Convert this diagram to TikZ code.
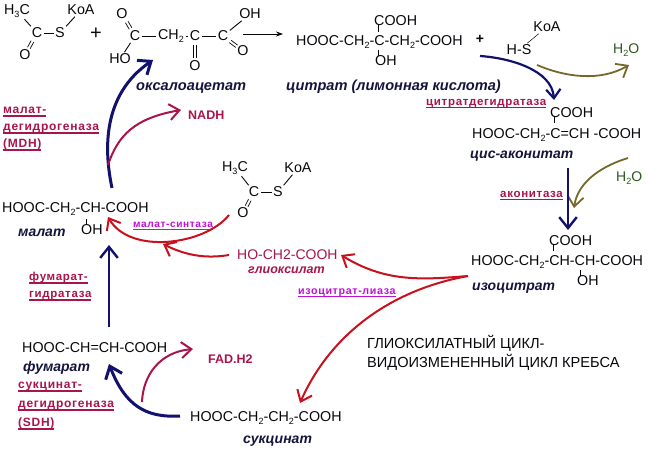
\documentclass[tikz,border=0pt]{standalone}
\usepackage{fontspec}
\setmainfont{Liberation Sans}
\newfontfamily\spacedbold[LetterSpace=6,BoldFont={Liberation Sans Bold}]{Liberation Sans}
\usetikzlibrary{arrows.meta,calc}
\definecolor{crim}{HTML}{A8154C}
\definecolor{redarr}{HTML}{C8101E}
\definecolor{navy2}{HTML}{12126E}
\definecolor{olive2}{HTML}{75692A}
\definecolor{dgreen}{HTML}{2A5A1E}
\definecolor{magen}{HTML}{C010D8}
\definecolor{ink}{HTML}{08080C}
\definecolor{nameink}{HTML}{14143C}
\newcommand{\sbs}[1]{\raisebox{-3pt}{\fontsize{9}{9}\selectfont #1}}
\newcommand{\ull}[1]{\setbox0\hbox{#1}\rlap{\rule[-3pt]{\wd0}{1.3pt}}\box0}
% double bond between two named atoms, drawn as two strokes
\newcommand{\dbl}[4]{%
  \draw[bond,line width=0.7pt] ($(#1)!#3!(#2)!1.5pt!90:(#2)$) -- ($(#1)!#4!(#2)!1.5pt!90:(#2)$);
  \draw[bond,line width=0.7pt] ($(#1)!#3!(#2)!1.5pt!-90:(#2)$) -- ($(#1)!#4!(#2)!1.5pt!-90:(#2)$);}
\tikzset{
  x=1pt,y=-1pt,
  chem/.style={anchor=base west,inner sep=0pt,text=ink,font=\fontsize{14.3}{16}\selectfont},
  atom/.style={anchor=center,inner sep=1.5pt,text=ink,font=\fontsize{14.3}{16}\selectfont},
  ital/.style={anchor=base west,inner sep=0pt,text=nameink,font=\fontsize{14}{16}\selectfont\itshape\bfseries},
  enz/.style={anchor=base west,inner sep=0pt,text=crim,align=left,font=\fontsize{11.5}{17}\spacedbold\bfseries},
  enzm/.style={anchor=base west,inner sep=0pt,text=magen,font=\fontsize{10.7}{14}\spacedbold\bfseries},
  prod/.style={anchor=base west,inner sep=0pt,text=crim,font=\fontsize{12.5}{16}\selectfont\bfseries},
  water/.style={anchor=base west,inner sep=0pt,text=dgreen,font=\fontsize{14}{16}\selectfont},
  bond/.style={draw=ink,line width=0.9pt},
  barb/.style={-{Straight Barb[length=#1,width=#1*1.6]}},
  navyarrow/.style={draw=navy2,line width=3pt,barb=11pt},
  navythin/.style={draw=navy2,line width=2.2pt,barb=9pt},
  redarrow/.style={draw=redarr,line width=2pt,barb=10pt},
  crimarrow/.style={draw=crim,line width=2pt,barb=10pt},
  olivearrow/.style={draw=olive2,line width=1.8pt,barb=10pt},
}
\begin{document}
\begin{tikzpicture}
\useasboundingbox (0,0) rectangle (648,448);
\fill[white] (0,0) rectangle (648,448);

% acetyl-CoA (top)
\node[atom] (a1h) at (17,11) {H\sbs{3}C};
\node[atom] (a1k) at (81,10) {KoA};
\node[atom] (a1c) at (37,33) {C};
\node[atom] (a1s) at (60,33) {S};
\node[atom] (a1o) at (25,55) {O};
\draw[bond] (a1h) -- (a1c);
\draw[bond] (a1c) -- (a1s);
\draw[bond] (a1s) -- (a1k);
\dbl{a1c}{a1o}{0.38}{0.68}
\node[atom,font=\fontsize{20}{20}\selectfont] (plus1) at (96,34) {+};

% oxaloacetate
\node[atom] (oo1) at (122,14) {O};
\node[atom] (oc1) at (135,36) {C};
\node[atom] (oho) at (120,59) {HO};
\node[atom] (och) at (171,36) {CH\sbs{2}};
\node[atom] (oc2) at (195,36) {C};
\node[atom] (oo2) at (195,66) {O};
\node[atom] (oc3) at (223,36) {C};
\node[atom] (ooh) at (250,14) {OH};
\node[atom] (oo3) at (243,51) {O};
\dbl{oo1}{oc1}{0.36}{0.66}
\draw[bond] (oc1) -- (oho);
\draw[bond] (oc1) -- (och);
\draw[bond] (och) -- (oc2);
\dbl{oc2}{oo2}{0.3}{0.72}
\draw[bond] (oc2) -- (oc3);
\draw[bond] (oc3) -- (ooh);
\dbl{oc3}{oo3}{0.36}{0.68}
\node[ital,font=\fontsize{14.6}{16}\selectfont\itshape\bfseries] (oname) at (136,90) {оксалоацетат};

% citrate
\node[chem] (cit) at (296,45) {HOOC-CH\sbs{2}-C-CH\sbs{2}-COOH};
\node[chem] (citc) at (374,25) {COOH};
\node[chem] (cito) at (375,65) {OH};
\draw[bond] ([xshift=4pt]citc.south west) -- ++(0,7);
\draw[bond] ([xshift=3pt,yshift=-1pt]cito.north west) -- ++(0,-6);
\node[ital,font=\fontsize{14.6}{16}\selectfont\itshape\bfseries] (citn) at (286,90) {цитрат (лимонная кислота)};
\coordinate (arrA) at (243,34);
\coordinate (arrB) at (283,34);
\draw[-{Stealth[length=7pt,width=5pt]},draw=ink,line width=0.8pt] (arrA) -- (arrB);

% HS-CoA
\node[atom,font=\fontsize{14}{16}\selectfont\bfseries] (plus2) at (480,39) {+};
\node[atom] (hs) at (519,50) {H-S};
\node[atom] (hsk) at (547,27) {KoA};
\draw[bond,line width=0.5pt] (hs) -- (hsk);
\node[water] (w1) at (613,53) {H\sbs{2}O};

% cis-aconitate
\node[enz] (cdh) at (426,105) {\ull{цитратдегидратаза}};
\node[chem] (acc) at (550,117) {COOH};
\node[chem] (aco) at (472,138) {HOOC-CH\sbs{2}-C=CH -COOH};
\draw[bond] ([xshift=4pt]acc.south west) -- ++(0,6);
\node[ital] (acn) at (470,158) {цис-аконитат};
\node[water] (w2) at (616,181) {H\sbs{2}O};
\node[enz] (acz) at (500,197) {\ull{аконитаза}};

% isocitrate
\node[chem] (icc) at (549,245) {COOH};
\node[chem] (ico) at (471,265) {HOOC-CH\sbs{2}-CH-CH-COOH};
\node[chem] (icoh) at (577,285) {OH};
\draw[bond] ([xshift=4pt]icc.south west) -- ++(0,6);
\draw[bond] ([xshift=3pt,yshift=-1pt]icoh.north west) -- ++(0,-6);
\node[ital] (icn) at (472,290) {изоцитрат};

% glyoxylate
\node[anchor=base west,inner sep=0pt,text=crim,font=\fontsize{14}{16}\selectfont] (gly) at (237,259) {HO-CH2-COOH};
\node[ital,text=crim,font=\fontsize{12.5}{16}\selectfont\itshape\bfseries] (glyn) at (248,273) {глиоксилат};
\node[enzm] (icl) at (298,294) {\ull{изоцитрат-лиаза}};

% acetyl-CoA (middle)
\node[atom] (a2h) at (235,168) {H\sbs{3}C};
\node[atom] (a2k) at (298,168) {KoA};
\node[atom] (a2c) at (254,192) {C};
\node[atom] (a2s) at (278,192) {S};
\node[atom] (a2o) at (243,213) {O};
\draw[bond] (a2h) -- (a2c);
\draw[bond] (a2c) -- (a2s);
\draw[bond] (a2s) -- (a2k);
\dbl{a2c}{a2o}{0.38}{0.68}
\node[enzm,font=\fontsize{10.1}{14}\spacedbold\bfseries] (mss) at (133,227) {\ull{малат-синтаза}};

% malate
\node[chem] (mal) at (2,212) {HOOC-CH\sbs{2}-CH-COOH};
\node[ital] (maln) at (18,236) {малат};
\node[chem] (maloh) at (81,234) {OH};
\draw[bond] ([xshift=5pt,yshift=-1pt]maloh.north west) -- ++(0,-6);

% left labels
\node[enz,anchor=north west,font=\fontsize{12}{17}\spacedbold\bfseries] (mdh) at (3,107) {\ull{малат-}\\\ull{дегидрогеназа}\\\ull{(MDH)}};
\node[prod] (nadh) at (188,119) {NADH};
\node[enz,anchor=north west,font=\fontsize{11.5}{17}\spacedbold\bfseries] (fh) at (29,272) {\ull{фумарат-}\\\ull{гидратаза}};

% fumarate
\node[chem] (fum) at (22,352) {HOOC-CH=CH-COOH};
\node[ital] (fumn) at (23,371) {фумарат};
\node[enz,anchor=north west,font=\fontsize{12}{19}\spacedbold\bfseries] (sdh) at (18,382) {\ull{сукцинат-}\\\ull{дегидрогеназа}\\\ull{(SDH)}};
\node[prod] (fad) at (208,363) {FAD.H2};

% succinate
\node[chem] (suc) at (190,421) {HOOC-CH\sbs{2}-CH\sbs{2}-COOH};
\node[ital] (sucn) at (243,443) {сукцинат};

% title
\node[anchor=north west,inner sep=0pt,align=left,text=ink,font=\fontsize{14.6}{19}\selectfont] (title) at (367,335) {ГЛИОКСИЛАТНЫЙ ЦИКЛ-\\ВИДОИЗМЕНЕННЫЙ ЦИКЛ КРЕБСА};

% free ends of the curved arrows
\coordinate (mdhS) at (112,188);
\coordinate (mdhE) at (153,60);
\coordinate (nadS) at (108,165);
\coordinate (nadE) at (181,110);
\coordinate (hsS) at (480,56);
\coordinate (hsE) at (554,100);
\coordinate (w1S) at (537,65);
\coordinate (w1E) at (629,65);
\coordinate (w2S) at (628,158);
\coordinate (w2E) at (574,208);
\coordinate (acS) at (568,168);
\coordinate (acE) at (568,230);
\coordinate (iso) at (468,276);
\coordinate (glyE) at (341,255);
\coordinate (sucE) at (300,403);
\coordinate (glmS) at (229,255);
\coordinate (glmE) at (163,244);
\coordinate (masS) at (229,215);
\coordinate (masE) at (108,217);
\coordinate (fmS) at (109,327);
\coordinate (fmE) at (109,245);
\coordinate (sfS) at (180,416);
\coordinate (sfE) at (109,364);
\coordinate (fadS) at (142,402);
\coordinate (fadE) at (193,349);

% arrows
\draw[navyarrow] (mdhS) .. controls (104,150) and (102,95) .. (mdhE);
\draw[crimarrow] (nadS) .. controls (118,135) and (135,118) .. (nadE);
\draw[navythin] (hsS) .. controls (510,58) and (552,70) .. (hsE);
\draw[olivearrow] (w1S) .. controls (565,77) and (600,82) .. (w1E);
\draw[olivearrow] (w2S) .. controls (605,165) and (578,180) .. (w2E);
\draw[navyarrow,line width=2.4pt] (acS) -- (acE);
\draw[redarrow] (iso) .. controls (420,280) and (385,282) .. (glyE);
\draw[redarrow] (iso) .. controls (390,290) and (330,335) .. (sucE);
\draw[redarrow] (glmS) .. controls (205,259) and (185,255) .. (glmE);
\draw[redarrow] (masS) .. controls (205,245) and (130,255) .. (masE);
\draw[navyarrow,line width=2.4pt] (fmS) -- (fmE);
\draw[navyarrow] (sfS) .. controls (145,418) and (125,405) .. (sfE);
\draw[crimarrow] (fadS) .. controls (143,375) and (160,352) .. (fadE);
\end{tikzpicture}
\end{document}
